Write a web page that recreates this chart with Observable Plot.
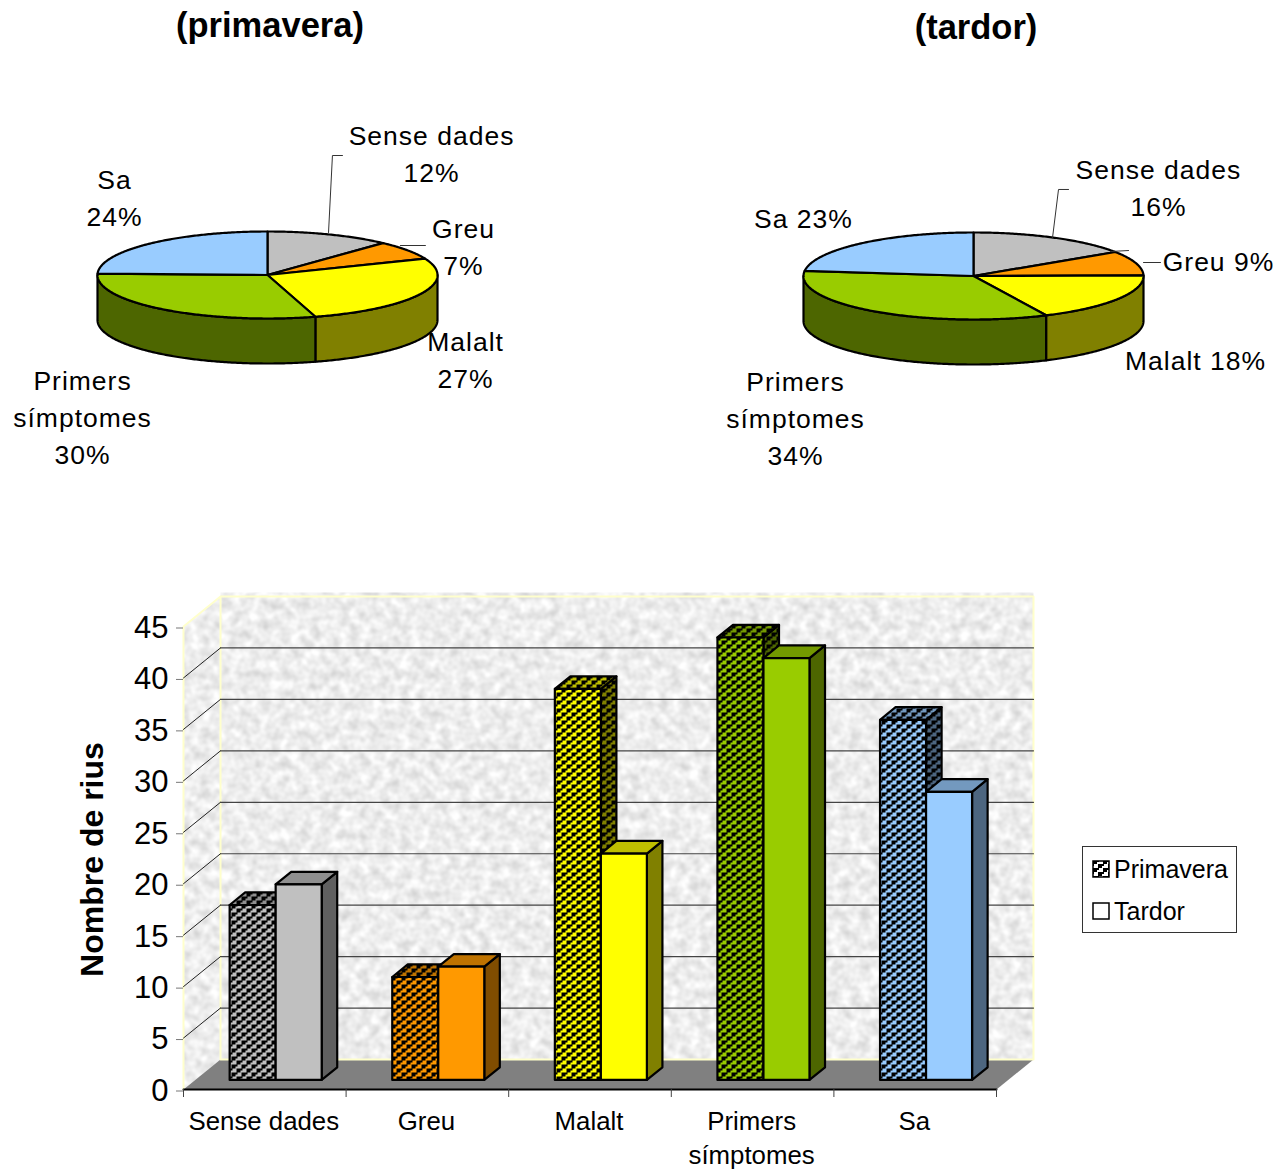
<!DOCTYPE html>
<html>
<head>
<meta charset="utf-8">
<script src="https://cdn.jsdelivr.net/npm/d3@7"></script>
<script src="https://cdn.jsdelivr.net/npm/@observablehq/plot@0.6"></script>
<style>
  html, body { margin: 0; padding: 0; background: #fff; }
  #page { position: relative; width: 1287px; height: 1169px; overflow: hidden; font-family: "Liberation Sans", Arial, sans-serif; color: #000; }
  #page svg.chart { position: absolute; }
  .title { position: absolute; margin: 0; font-size: 34.5px; font-weight: bold; line-height: 40px; text-align: center; }
  #legend { position: absolute; left: 1082px; top: 846px; width: 153px; height: 85px; border: 1px solid #333; font-size: 25px; }
  #legend .row { position: absolute; left: 9px; display: flex; align-items: center; gap: 4px; height: 30px; }
  #legend svg { display: block; }
</style>
</head>
<body>
<div id="page"></div>
<script>
// ---- data ----
const categories = ["Sense dades", "Greu", "Malalt", "Primers\nsímptomes", "Sa"];
const primavera = [17, 10, 38, 43, 35];
const tardor = [19, 11, 22, 41, 28];
const yTicks = [0, 5, 10, 15, 20, 25, 30, 35, 40, 45];
const seriesNames = ["Primavera", "Tardor"];
const chartTitles = ["(primavera)", "(tardor)"];
const yTitle = "Nombre de rius";

// ---- styles ----
const faceColors = ["#c0c0c0", "#ff9900", "#ffff00", "#99cc00", "#99ccff"];
const topColors  = ["#8f8f8f", "#bf7300", "#bfbf00", "#739900", "#7399bf"];
const sideColors = ["#606060", "#804d00", "#808000", "#4d6600", "#4d6680"];
const font = '"Liberation Sans", Arial, sans-serif';

// ---- pie layout: label anchors and leader lines, in pie-radius units ----
const springLabels = [
  {sep: "\n", x: 0.965, y: 2.747, name: 0}, {sep: "\n", x: 1.153, y: 0.62, name: 1},
  {sep: "\n", x: 1.165, y: -1.977, name: 2}, {sep: "\n", x: -1.088, y: -3.3, name: 3},
  {sep: "\n", x: -0.9, y: 1.736, name: 4}
];
const autumnLabels = [
  {sep: "\n", x: 1.088, y: 2.0, name: 0}, {sep: " ", x: 1.441, y: 0.31, name: 1},
  {sep: " ", x: 1.306, y: -1.966, name: 2}, {sep: "\n", x: -1.047, y: -3.3, name: 3},
  {sep: " ", x: -1.0, y: 1.299, name: 4}
];
const springLeaders = [
  [[0.359, 0.977], [0.382, 2.747], [0.441, 2.747]],
  [[0.782, 0.678], [0.929, 0.678]]
];
const autumnLeaders = [
  [[0.465, 0.885], [0.5, 1.989], [0.559, 1.989]],
  [[0.806, 0.563], [0.912, 0.586]],
  [[1.0, 0.31], [1.1, 0.31]]
];

const page = document.getElementById("page");

function place(node, left, top) {
  node.classList.add("chart");
  node.style.left = left + "px";
  node.style.top = top + "px";
  node.style.maxWidth = "none";
  page.appendChild(node);
}

function closedShape(points, fill, extra = {}) {
  return Plot.line(points, {x: "x", y: "y", fill, stroke: "#000", strokeWidth: 2.2, curve: "linear-closed", strokeLinejoin: "round", ...extra});
}

// ---- 3-D pie ----
function pie(values, labels, leaders, frame) {
  const total = d3.sum(values);
  const thickness = 45 / 43.5;
  const arc = (a0, a1, drop = 0) => {
    const n = Math.max(2, Math.ceil(Math.abs(a1 - a0) * 90));
    return d3.range(n + 1).map(k => {
      const a = a0 + (a1 - a0) * k / n;
      return {x: Math.sin(a), y: Math.cos(a) - drop};
    });
  };
  let start = 0;
  const slices = values.map((v, i) => {
    const s = {i, a0: start, a1: start + v / total * 2 * Math.PI};
    start = s.a1;
    return s;
  });
  const walls = [];
  slices.forEach(s => {
    const lo = Math.max(s.a0, Math.PI / 2), hi = Math.min(s.a1, 3 * Math.PI / 2);
    if (hi > lo) walls.push(closedShape([...arc(lo, hi), ...arc(hi, lo, thickness)], sideColors[s.i]));
  });
  const tops = slices.map(s => closedShape([{x: 0, y: 0}, ...arc(s.a0, s.a1)], faceColors[s.i]));
  const labelRows = labels.map(l => ({
    x: l.x, y: l.y,
    text: categories[l.name] + l.sep + Math.round(values[l.name] / total * 100) + "%"
  }));
  const leaderMarks = leaders.map(pts =>
    Plot.line(pts, {x: d => d[0], y: d => d[1], stroke: "#333", strokeWidth: 1, curve: "linear"}));
  return Plot.plot({
    width: frame.width, height: frame.height,
    marginLeft: frame.left, marginRight: frame.width - frame.left - 340,
    marginTop: frame.top, marginBottom: frame.height - frame.top - 87,
    x: {domain: [-1, 1], axis: null},
    y: {domain: [-1, 1], axis: null},
    style: {fontFamily: font, background: "transparent", overflow: "visible", letterSpacing: "1px"},
    marks: [
      ...walls, ...tops, ...leaderMarks,
      Plot.text(labelRows, {x: "x", y: "y", text: "text", fontSize: 26.5, lineHeight: 1.4, fill: "#000", textAnchor: "middle", dy: -3.5})
    ]
  });
}

place(pie(primavera, springLabels, springLeaders, {width: 640, height: 480, left: 97, top: 231}), 0, 0);
place(pie(tardor, autumnLabels, autumnLeaders, {width: 647, height: 480, left: 163, top: 232}), 640, 0);

// ---- titles ----
[[chartTitles[0], 70, 5, 400], [chartTitles[1], 776, 7, 400]].forEach(([t, l, top, w]) => {
  const h = document.createElement("h2");
  h.className = "title";
  h.textContent = t;
  h.style.left = l + "px"; h.style.top = top + "px"; h.style.width = w + "px";
  page.appendChild(h);
});

// ---- 3-D columns ----
const depthX = 37 / 162.6, depthY = 30 / 10.29;
const P = (c, v, d) => ({x: c + d * depthX, y: v + d * depthY});
const barFront = 0.32, barBack = 0.74, barGap = 0.211, barWidth = 0.283;

const tile = "M1 0h6v2h-2v2h-4z M6 4h4v2h-4z M0 4h2v2h-2z M6 6h4v2h-4z";
function patternDef(id, color) {
  return `<pattern id="${id}" patternUnits="userSpaceOnUse" width="10" height="8"><rect width="10" height="8" fill="${color}"/><path d="${tile}" fill="#000"/></pattern>`;
}
const defsHtml =
  `<filter id="marble" x="0" y="0" width="100%" height="100%" color-interpolation-filters="sRGB">
     <feTurbulence type="fractalNoise" baseFrequency="0.1" numOctaves="2" seed="7"/>
     <feColorMatrix type="matrix" values="0.26 0 0 0 0.80  0.26 0 0 0 0.80  0.26 0 0 0 0.80  0 0 0 0 1"/>
     <feGaussianBlur stdDeviation="0.7"/>
   </filter>
   <pattern id="wall" patternUnits="userSpaceOnUse" width="1200" height="800"><rect width="1200" height="800" filter="url(#marble)"/></pattern>` +
  faceColors.map((c, i) => patternDef("pf" + i, c) + patternDef("pt" + i, topColors[i]) + patternDef("ps" + i, sideColors[i])).join("") +
  patternDef("legendPat", "#fff");

const defsMark = () => {
  const g = document.createElementNS("http://www.w3.org/2000/svg", "defs");
  g.innerHTML = defsHtml;
  return g;
};

function barMarks(values, fillOf) {
  return values.map((v, i) => {
    const x0 = fillOf.offset(i), x1 = x0 + barWidth;
    return [
      closedShape([P(x1, 0, barFront), P(x1, 0, barBack), P(x1, v, barBack), P(x1, v, barFront)], fillOf.side(i)),
      closedShape([P(x0, v, barFront), P(x1, v, barFront), P(x1, v, barBack), P(x0, v, barBack)], fillOf.top(i)),
      closedShape([P(x0, 0, barFront), P(x1, 0, barFront), P(x1, v, barFront), P(x0, v, barFront)], fillOf.face(i))
    ];
  });
}
const springBars = barMarks(primavera, {
  offset: i => i + barGap,
  side: i => `url(#ps${i})`, top: i => `url(#pt${i})`, face: i => `url(#pf${i})`
});
const autumnBars = barMarks(tardor, {
  offset: i => i + barGap + barWidth,
  side: i => sideColors[i], top: i => topColors[i], face: i => faceColors[i]
});
const bars = categories.flatMap((_, i) => [...springBars[i], ...autumnBars[i]]);

const n = categories.length;
const noEdge = {stroke: "none"};
const paleEdge = {stroke: "#ffffcc", strokeWidth: 2, curve: "linear"};
const xy = {x: "x", y: "y"};
const columns = Plot.plot({
  width: 1287, height: 689,
  marginLeft: 183, marginRight: 254, marginTop: 146, marginBottom: 80,
  x: {domain: [0, n + depthX], axis: null},
  y: {domain: [0, 45], axis: null},
  style: {fontFamily: font, background: "transparent", overflow: "visible"},
  marks: [
    defsMark,
    // walls and floor
    closedShape([P(0, 0, 1), P(n, 0, 1), P(n, 45.4, 1), P(0, 45.4, 1)], "url(#wall)", noEdge),
    closedShape([P(0, 0, 0), P(0, 0, 1), P(0, 45, 1), P(0, 45, 0)], "url(#wall)", noEdge),
    closedShape([P(0, 0, 0), P(n, 0, 0), P(n, 0, 1), P(0, 0, 1)], "#808080", noEdge),
    // pale frame of the walls
    Plot.line([P(0, 0, 0), P(0, 45, 0), P(0, 45, 1), P(n, 45, 1), P(n, 0, 1), P(0, 0, 1), P(0, 45, 1)], {...xy, ...paleEdge}),
    // gridlines
    ...yTicks.filter(v => v > 0 && v < 45).flatMap(v => [
      Plot.line([P(0, v, 0), P(0, v, 1)], {...xy, stroke: "#222", strokeWidth: 1, curve: "linear"}),
      Plot.line([P(0, v, 1), P(n, v, 1)], {...xy, stroke: "#444", strokeWidth: 1.2, curve: "linear"})
    ]),
    // axes
    Plot.line([P(0, 0, 0), P(n, 0, 0)], {...xy, stroke: "#000", strokeWidth: 2, curve: "linear"}),
    Plot.axisY({ticks: yTicks, label: null, tickSize: 7, tickPadding: 8, fontSize: 31, dy: 1.5, stroke: "#777", tickFormat: d => String(d)}),
    Plot.axisX({ticks: d3.range(n + 1), label: null, tickSize: 8, stroke: "#444", tickFormat: () => ""}),
    Plot.axisX({ticks: d3.range(n).map(i => i + 0.5), label: null, tickSize: 0, tickPadding: 16, fontSize: 25.8, lineHeight: 1.32, dx: -1, tickFormat: d => categories[d - 0.5]}),
    ...bars,
    Plot.text([yTitle], {x: -0.56, y: 22.35, text: d => d, rotate: -90, fontSize: 32, fontWeight: "bold", fill: "#000"})
  ]
});
place(columns, 0, 480);

// ---- legend ----
const legend = document.createElement("div");
legend.id = "legend";
legend.innerHTML = seriesNames.map((name, i) =>
  `<div class="row" style="top:${i === 0 ? 7 : 49}px"><svg width="18" height="18"><rect x="1" y="1" width="16" height="16" fill="${i === 0 ? "url(#legendPat)" : "#fff"}" stroke="#000" stroke-width="1.5"/></svg><span>${name}</span></div>`
).join("");
page.appendChild(legend);
</script>
</body>
</html>
